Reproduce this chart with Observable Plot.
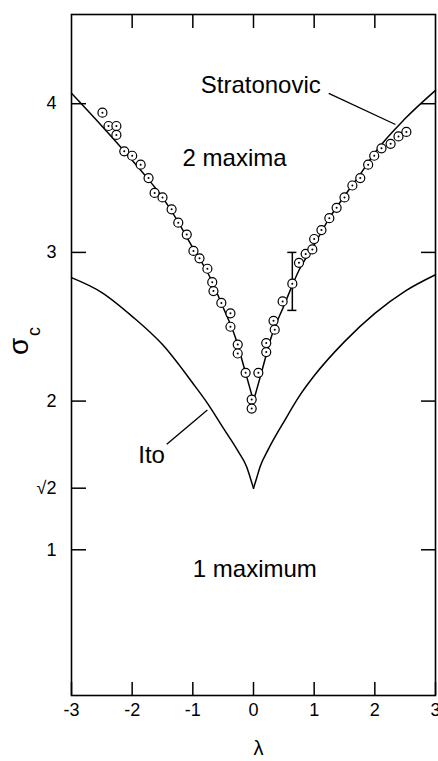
<!DOCTYPE html>
<html><head><meta charset="utf-8">
<script src="https://cdn.jsdelivr.net/npm/d3@7"></script>
<script src="https://cdn.jsdelivr.net/npm/@observablehq/plot@0.6"></script>
<style>body{margin:0;background:#fff}</style>
</head><body><div id="chart"></div>
<script>
// Stratonovic curve, left and right branches
const stratLeftL  = [-3.0, -2.5, -2.0, -1.75, -1.5, -1.25, -1.0, -0.75, -0.5, -0.3, -0.13, 0];
const stratLeftS  = [4.07, 3.85, 3.62, 3.50, 3.37, 3.21, 3.03, 2.86, 2.63, 2.43, 2.19, 2.0];
const stratRightL = [0, 0.13, 0.3, 0.5, 0.75, 1.0, 1.25, 1.5, 1.75, 2.0, 2.5, 3.0];
const stratRightS = [2.0, 2.19, 2.44, 2.64, 2.88, 3.05, 3.23, 3.38, 3.52, 3.67, 3.90, 4.09];
// Ito curve
const itoLeftL  = [-3.0, -2.5, -2.0, -1.5, -1.0, -0.75, -0.5, -0.25, -0.11, -0.05, 0];
const itoLeftS  = [2.83, 2.73, 2.57, 2.38, 2.12, 1.98, 1.82, 1.66, 1.555, 1.48, 1.414];
const itoRightL = [0, 0.05, 0.11, 0.25, 0.5, 0.75, 1.0, 1.5, 2.0, 2.5, 3.0];
const itoRightS = [1.414, 1.48, 1.56, 1.68, 1.86, 2.03, 2.17, 2.40, 2.59, 2.74, 2.85];
// simulation points
const pointL = [-2.49,-2.39,-2.26,-2.26,-2.13,-2.00,-1.86,-1.73,-1.63,-1.50,-1.35,-1.24,-1.10,-0.99,-0.89,-0.76,-0.68,-0.66,-0.53,-0.38,-0.38,-0.26,-0.26,-0.13,-0.03,-0.03,
  0.08,0.21,0.21,0.33,0.35,0.48,0.64,0.75,0.86,0.97,1.00,1.12,1.25,1.37,1.50,1.63,1.76,1.89,1.99,2.11,2.26,2.39,2.52];
const pointS = [3.94,3.85,3.85,3.79,3.68,3.65,3.59,3.50,3.40,3.37,3.29,3.20,3.12,3.01,2.96,2.89,2.80,2.74,2.66,2.59,2.50,2.38,2.32,2.19,2.01,1.95,
  2.19,2.39,2.33,2.54,2.48,2.67,2.79,2.93,2.99,3.02,3.09,3.15,3.23,3.30,3.37,3.45,3.50,3.59,3.65,3.70,3.73,3.78,3.81];
// error bar
const errL = [0.64], errLo = [2.61], errHi = [3.0];
// ticks
const xTicks = [-3, -2, -1, 0, 1, 2, 3];
const xTickLabels = ["-3", "-2", "-1", "0", "1", "2", "3"];
const yTicks = [1, Math.SQRT2, 2, 3, 4];
const yTickLabels = ["1", "√2", "2", "3", "4"];
// annotations
const labelText = ["Stratonovic", "2 maxima", "1 maximum", "Ito"];
const labelL = [-0.87, -1.17, -1.0, -1.90];
const labelS = [4.07, 3.58, 0.815, 1.587];
const leaderL1 = [1.24, -1.43], leaderS1 = [4.07, 1.71];
const leaderL2 = [2.34, -0.76], leaderS2 = [3.86, 1.94];

const curves = [];
stratLeftL.forEach((l, i) => curves.push({x: l, y: stratLeftS[i], z: "sL"}));
stratRightL.forEach((l, i) => curves.push({x: l, y: stratRightS[i], z: "sR"}));
itoLeftL.forEach((l, i) => curves.push({x: l, y: itoLeftS[i], z: "iL"}));
itoRightL.forEach((l, i) => curves.push({x: l, y: itoRightS[i], z: "iR"}));
const pts = pointL.map((l, i) => ({x: l, y: pointS[i]}));
const labels = labelText.map((t, i) => ({t, x: labelL[i], y: labelS[i]}));
const leaders = leaderL1.map((l, i) => ({x1: l, y1: leaderS1[i], x2: leaderL2[i], y2: leaderS2[i]}));
const errs = errL.map((l, i) => ({x: l, lo: errLo[i], hi: errHi[i]}));

const font = "Liberation Sans, Arial, sans-serif";
const chart = Plot.plot({
  width: 438, height: 761,
  marginTop: 14, marginBottom: 66, marginLeft: 71, marginRight: 3,
  style: {fontFamily: font, background: "white", color: "black"},
  x: {domain: [-3, 3]},
  y: {domain: [0.02, 4.6]},
  marks: [
    Plot.frame({stroke: "black", strokeWidth: 1.6}),
    Plot.axisY({anchor: "left", ticks: yTicks, tickFormat: d => yTickLabels[yTicks.indexOf(d)], tickSize: -15, tickPadding: 30, fontSize: 18, strokeWidth: 1.5, label: null}),
    Plot.axisY({anchor: "right", ticks: [1, 2, 3, 4], tickFormat: () => "", tickSize: -15, strokeWidth: 1.5, label: null}),
    Plot.axisX({anchor: "bottom", ticks: xTicks, tickFormat: d => xTickLabels[xTicks.indexOf(d)], tickSize: -13, tickPadding: 21, fontSize: 18, strokeWidth: 1.5, label: null}),
    Plot.axisX({anchor: "top", ticks: [-2, -1, 0, 1, 2], tickFormat: () => "", tickSize: -13, strokeWidth: 1.5, label: null}),
    Plot.line(curves, {x: "x", y: "y", z: "z", curve: "monotone-x", stroke: "black", strokeWidth: 1.5}),
    Plot.link(leaders, {x1: "x1", y1: "y1", x2: "x2", y2: "y2", stroke: "black", strokeWidth: 1.3}),
    Plot.link(errs, {x1: "x", x2: "x", y1: "lo", y2: "hi", stroke: "black", strokeWidth: 1.5}),
    Plot.ruleY(errs, {y: "lo", x1: d => d.x - 0.075, x2: d => d.x + 0.075, stroke: "black", strokeWidth: 1.5}),
    Plot.ruleY(errs, {y: "hi", x1: d => d.x - 0.075, x2: d => d.x + 0.075, stroke: "black", strokeWidth: 1.5}),
    Plot.dot(pts, {x: "x", y: "y", r: 4.5, fill: "white", stroke: "black", strokeWidth: 1.2}),
    Plot.dot(pts, {x: "x", y: "y", r: 1, fill: "black"}),
    Plot.text(labels, {x: "x", y: "y", text: "t", textAnchor: "start", lineAnchor: "bottom", fontSize: 24, fill: "black"}),
    Plot.text(["λ"], {frameAnchor: "bottom", dx: 5, dy: 53, lineAnchor: "middle", fontSize: 20, fill: "black"}),
    Plot.text(["σ"], {frameAnchor: "left", dx: -52, dy: 0, rotate: -90, lineAnchor: "middle", fontSize: 28, fill: "black"}),
    Plot.text(["c"], {frameAnchor: "left", dx: -37, dy: -19, rotate: -90, lineAnchor: "middle", fontSize: 18, fill: "black"})
  ]
});
document.getElementById("chart").appendChild(chart);
</script>
</body></html>
